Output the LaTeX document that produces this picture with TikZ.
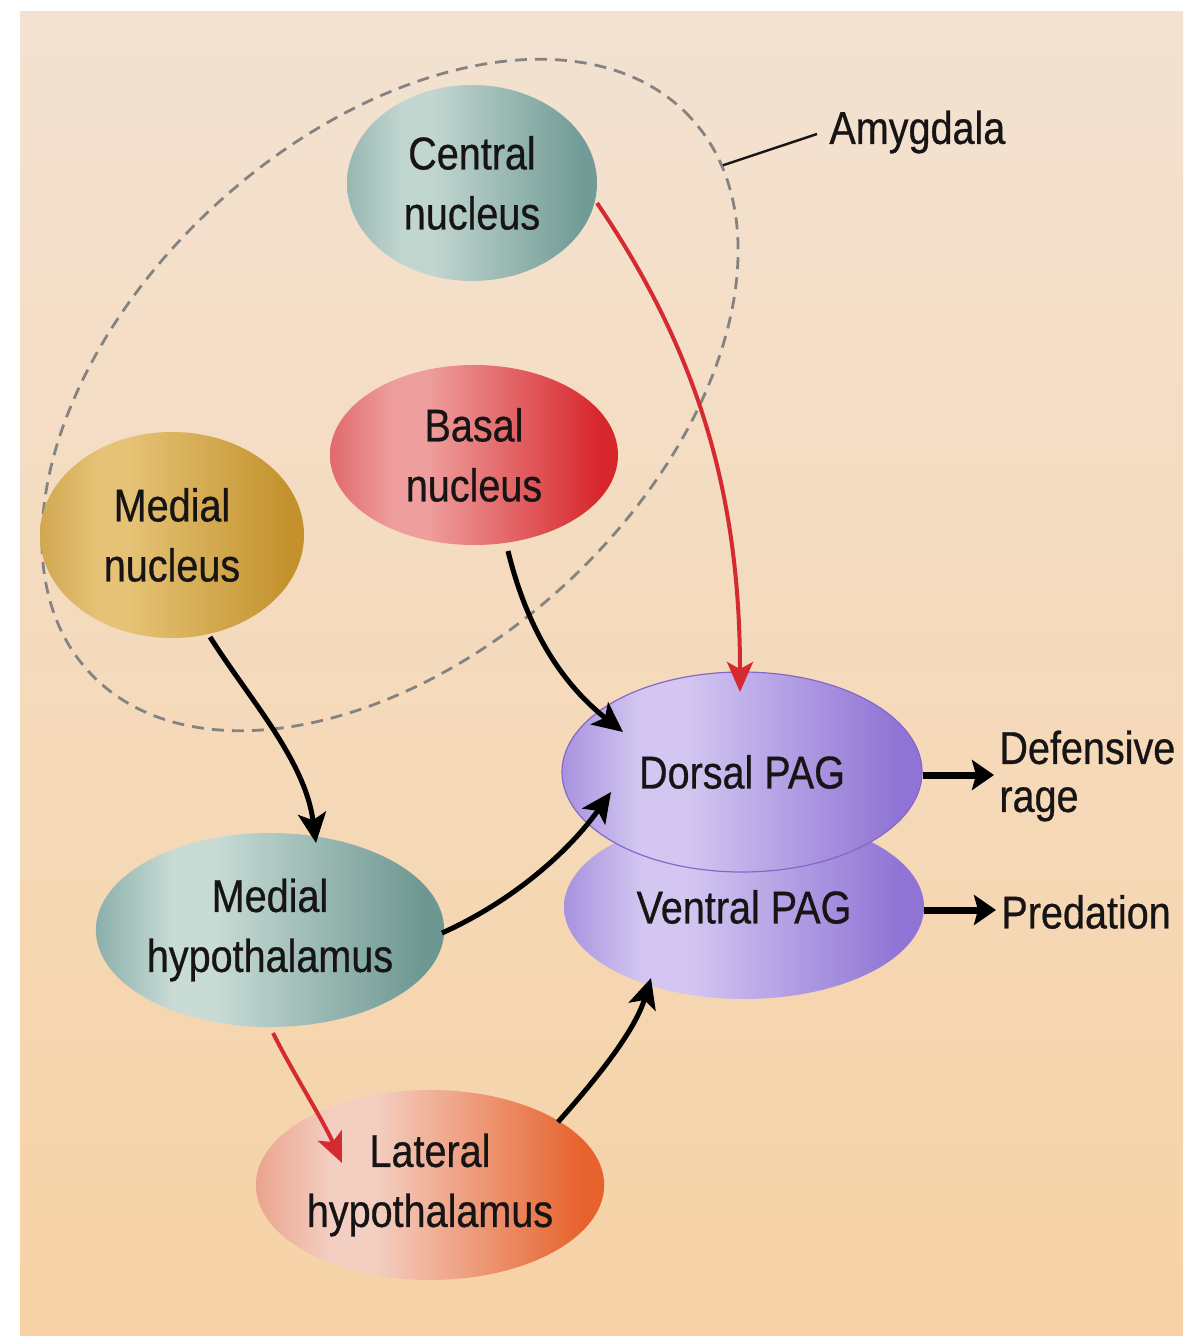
\documentclass[tikz,border=0pt]{standalone}
\usepackage{fontspec}
\newfontfamily\lbl{Liberation Sans}[FakeStretch=0.86,FakeBold=0.6]
\usetikzlibrary{shapes.geometric,arrows.meta,calc}
\definecolor{bgtop}{HTML}{F3E2D2}
\definecolor{bgbot}{HTML}{F6D2A5}
\definecolor{txt}{HTML}{161414}
\definecolor{arrred}{HTML}{D42A30}
\definecolor{dashc}{HTML}{858381}
\definecolor{pagedge}{HTML}{8468C8}
\definecolor{ndark}{HTML}{888888}
\definecolor{nlite}{HTML}{DDDDDD}
\definecolor{nbase}{HTML}{777777}
\pgfdeclarehorizontalshading[ndark,nlite,nbase]{blob}{100bp}{color(0bp)=(ndark); color(25bp)=(ndark); color(36bp)=(nlite); color(42bp)=(nlite); color(72bp)=(nbase); color(100bp)=(nbase)}
\tikzset{
  setblob/.code n args={3}{\definecolor{ndark}{HTML}{#1}\definecolor{nlite}{HTML}{#2}\definecolor{nbase}{HTML}{#3}},
  nuc/.style={ellipse, inner sep=0pt, align=center, font=\lbl\fontsize{23pt}{30pt}\selectfont, text=txt, shade, shading=blob},
  blk/.style={line width=2.5pt, draw=black, -{Stealth[length=15pt,width=14pt,inset=3.5pt]}},
  redarr/.style={line width=2pt, draw=arrred, -{Stealth[length=15pt,width=13pt,inset=3.5pt]}},
  outarr/.style={line width=3.5pt, draw=black, -{Stealth[length=11pt,width=15pt,inset=2pt]}},
  lab/.style={font=\lbl\fontsize{23pt}{24pt}\selectfont, text=txt, inner sep=0pt, align=left},
}
\begin{document}
\begin{tikzpicture}[x=0.5pt,y=-0.5pt]
\useasboundingbox (0,0) rectangle (1190,1342);
\fill[white] (0,0) rectangle (1190,1342);
\shade[top color=bgtop, bottom color=bgbot] (20,12) rectangle (1183,1335);

% amygdala outline
\node[ellipse, draw=dashc, line width=1.4pt, dash pattern=on 6pt off 4pt, rotate=42.6,
      minimum width=409pt, minimum height=258pt, inner sep=0pt] (amyg) at (390,395) {};

% nuclei
\node[nuc, setblob={96B7B2}{C2D6D0}{719B96}, minimum width=125pt, minimum height=98pt] (cen) at (472,183) {Central\\nucleus};
\node[nuc, setblob={E06A6D}{EE9E9C}{D7262C}, minimum width=144pt, minimum height=90pt] (bas) at (474,455) {Basal\\nucleus};
\node[nuc, setblob={D2A752}{E5C275}{C3922D}, minimum width=132pt, minimum height=103pt] (med) at (172,535) {Medial\\nucleus};
\node[nuc, setblob={8CAFAB}{C8DBD5}{6E9792}, minimum width=170pt, minimum height=97pt] (mhy) at (270,930) {Medial\\hypothalamus};
\node[nuc, setblob={EBA48E}{F3CFC2}{E7622C}, minimum width=169pt, minimum height=95pt] (lhy) at (430,1185) {Lateral\\hypothalamus};
\node[nuc, setblob={A892DF}{D3C7F1}{8F73D5}, minimum width=180pt, minimum height=92pt] (ven) at (744,907) {Ventral PAG};
\node[nuc, setblob={A892DF}{D3C7F1}{8F73D5}, draw=pagedge, line width=0.6pt, minimum width=180pt, minimum height=100pt] (dor) at (742,772) {Dorsal PAG};

% labels
\node[lab, anchor=west] (def) at (999,776) {Defensive\\rage};
\node[lab, anchor=west] (pred) at (1001,912) {Predation};
\node[lab, anchor=west] (amy) at (829,132) {Amygdala};

% connectors
\draw[redarr] ($(cen)+(125,20)$) .. controls +(93,137) and +(0,-212) .. ($(dor)+(-2,-80)$);
\draw[blk] ($(bas)+(34,96)$) .. controls +(22,90) and +(-53,-42) .. ($(dor)+(-119,-40)$);
\draw[blk] ($(med)+(38,102)$) .. controls +(40,63) and +(-11,-83) .. ($(mhy)+(46,-87)$);
\draw[blk] ($(mhy)+(172,3)$) .. controls +(73,-33) and +(-41,58) .. ($(dor)+(-131,20)$);
\draw[redarr] ($(mhy)+(3,103)$) .. controls +(20,40) and +(-20,-45) .. ($(lhy)+(-88,-22)$);
\draw[blk] ($(lhy)+(128,-63)$) .. controls +(42,-47) and +(-16,52) .. ($(ven)+(-93,71)$);
\draw[outarr, shorten >=2.5pt] ($(dor.east)+(0,3)$) -- ($(dor.east -| def.west)+(0,3)$);
\draw[outarr, shorten >=2.5pt] ($(ven.east)+(0,3)$) -- ($(ven.east -| pred.west)+(0,3)$);
\draw[line width=1.2pt, txt] (amyg.-8.6) -- ($(amy.west)+(-12,2)$);
\end{tikzpicture}
\end{document}
